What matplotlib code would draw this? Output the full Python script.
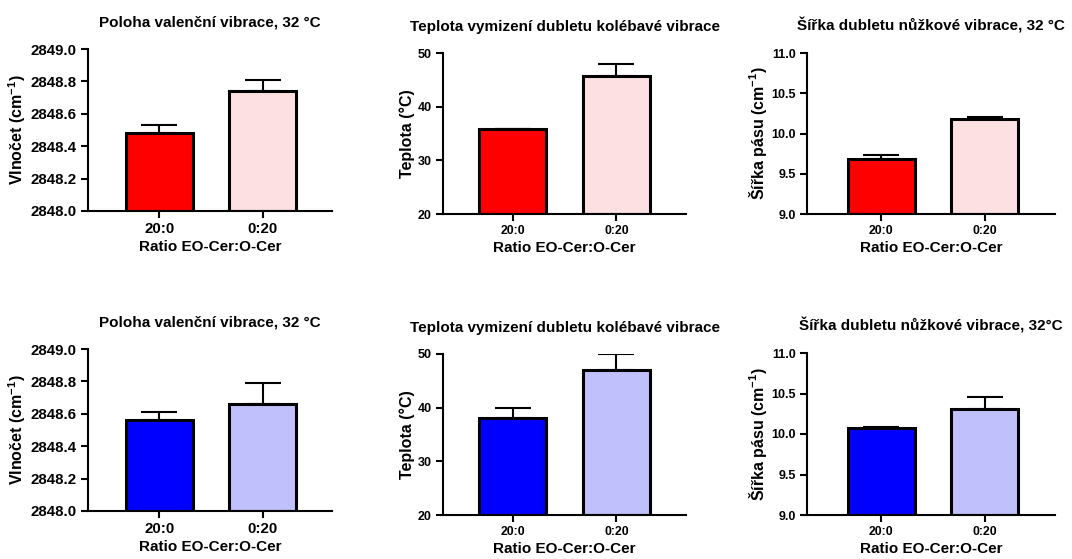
import matplotlib
matplotlib.use("Agg")
import matplotlib.pyplot as plt
import numpy as np

plt.rcParams['font.family'] = ['Liberation Sans', 'DejaVu Sans']
plt.rcParams['font.weight'] = 'bold'
plt.rcParams['mathtext.fontset'] = 'custom'
plt.rcParams['mathtext.rm'] = 'Liberation Sans:bold'
plt.rcParams['mathtext.default'] = 'rm'

categories = ["20:0", "0:20"]
xlabel = "Ratio EO-Cer:O-Cer"

titles = ["Poloha valenční vibrace, 32 °C",
          "Teplota vymizení dubletu kolébavé vibrace",
          "Šířka dubletu nůžkové vibrace, 32 °C",
          "Poloha valenční vibrace, 32 °C",
          "Teplota vymizení dubletu kolébavé vibrace",
          "Šířka dubletu nůžkové vibrace, 32°C"]
ylabels = ["Vlnočet (cm$^{-1}$)", "Teplota (°C)", "Šířka pásu (cm$^{-1}$)"] * 2

# means and (upper) error values
pos_red_mean = [2848.48, 2848.74]
pos_red_err = [0.05, 0.07]
temp_red_mean = [35.9, 45.8]
temp_red_err = [0.0, 2.2]
width_red_mean = [9.68, 10.18]
width_red_err = [0.05, 0.03]
pos_blue_mean = [2848.56, 2848.66]
pos_blue_err = [0.05, 0.13]
temp_blue_mean = [38.0, 47.0]
temp_blue_err = [2.0, 3.0]
width_blue_mean = [10.08, 10.31]
width_blue_err = [0.01, 0.15]

red_colors = ["#FF0000", "#FDE0E1"]
blue_colors = ["#0000FF", "#C0C0FC"]

yranges = [(2848.0, 2849.0, 0.2, "{:.1f}"), (20, 50, 10, "{:.0f}"), (9.0, 11.0, 0.5, "{:.1f}")]

fig = plt.figure(figsize=(10.72, 5.59), dpi=100)
W, H = 1072, 559

# pixel boxes: left, right, top, bottom
boxes = [(88, 332, 49, 211), (443, 686, 53, 214), (807, 1055, 53, 214),
         (88, 332, 349, 511), (443, 686, 354, 515), (807, 1055, 353, 515)]
xlims = [(-0.69, 1.67), (-0.67, 1.67), (-0.72, 1.68)] * 2
tick_fs = [10.8, 9.0, 9.0] * 2
xtick_fs = [10.8, 8.8, 8.8] * 2

data = [(pos_red_mean, pos_red_err, red_colors),
        (temp_red_mean, temp_red_err, red_colors),
        (width_red_mean, width_red_err, red_colors),
        (pos_blue_mean, pos_blue_err, blue_colors),
        (temp_blue_mean, temp_blue_err, blue_colors),
        (width_blue_mean, width_blue_err, blue_colors)]

for i, (means, errs, cols) in enumerate(data):
    l, r, t, b = boxes[i]
    ax = fig.add_axes([l / W, 1 - b / H, (r - l) / W, (b - t) / H])
    x = np.arange(len(categories))
    ymin, ymax, step, fmt = yranges[i % 3]
    ax.errorbar(x, means, yerr=[np.zeros(len(errs)), errs], fmt='none',
                ecolor='black', elinewidth=1.5, capsize=13, capthick=1.5, zorder=1)
    ax.bar(x, np.array(means) - ymin, bottom=ymin, width=0.65, color=cols,
           edgecolor='black', linewidth=2.2, zorder=2)
    ax.set_xlim(*xlims[i])
    ax.set_ylim(ymin, ymax)
    yt = np.arange(ymin, ymax + step / 2, step)
    ax.set_yticks(yt)
    ax.set_yticklabels([fmt.format(v) for v in yt], fontsize=tick_fs[i], fontweight='bold')
    ax.set_xticks(x)
    ax.set_xticklabels(categories, fontsize=xtick_fs[i], fontweight='bold')
    ax.spines['top'].set_visible(False)
    ax.spines['right'].set_visible(False)
    ax.spines['left'].set_linewidth(1.5)
    ax.spines['bottom'].set_linewidth(1.5)
    ax.tick_params(axis='both', width=1.5, length=5, pad=3)
    ax.set_title(titles[i], fontsize=11, fontweight='bold', pad=16)
    ax.set_ylabel(ylabels[i], fontsize=11.5, fontweight='bold', labelpad=2)
    ax.set_xlabel(xlabel, fontsize=11, fontweight='bold', labelpad=3)

fig.savefig("out.png", dpi=100)
